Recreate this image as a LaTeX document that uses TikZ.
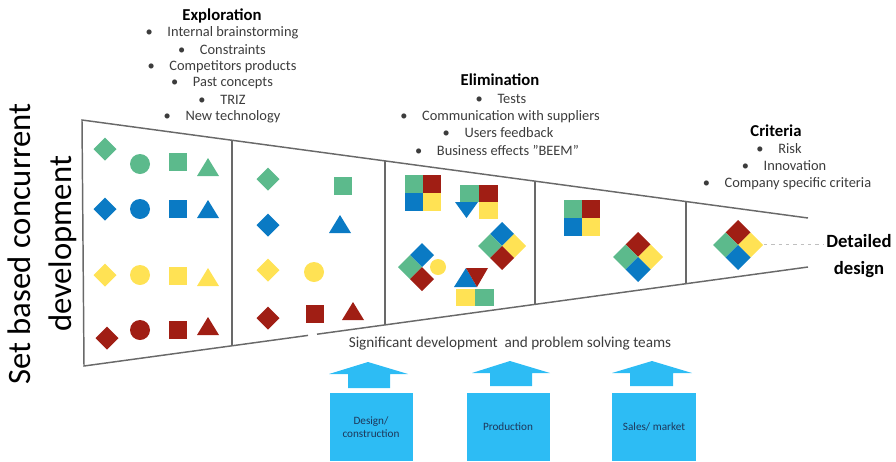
\documentclass[tikz,border=0pt]{standalone}
\usepackage{fontspec}
\setmainfont{Carlito}
\definecolor{cgreen}{RGB}{92,186,140}
\definecolor{cblue}{RGB}{10,122,196}
\definecolor{cyellow}{RGB}{255,226,84}
\definecolor{cred}{RGB}{160,30,20}
\definecolor{ccyan}{RGB}{45,188,244}
\definecolor{cline}{RGB}{105,105,105}
\definecolor{ctext}{RGB}{60,60,60}
\definecolor{cnavy}{RGB}{30,55,90}
\newcommand\mydia[4]{\fill[#1] (#2,#3) +(0,-#4) -- +(#4,0) -- +(0,#4) -- +(-#4,0) -- cycle;}
\newcommand\mysq[4]{\fill[#1] (#2,#3) +(-#4,-#4) rectangle +(#4,#4);}
\newcommand\mycirc[4]{\fill[#1] (#2,#3) circle (#4);}
\newcommand\mytri[4]{\fill[#1] (#2,#3) +(-#4,8) -- +(#4,8) -- +(0,-10) -- cycle;}
% quad square: centre x,y ; cell 18
\newcommand\quadsq[2]{%
  \fill[cgreen] (#1-18,#2-18) rectangle (#1,#2);
  \fill[cred] (#1,#2-18) rectangle (#1+18,#2);
  \fill[cblue] (#1-18,#2) rectangle (#1,#2+18);
  \fill[cyellow] (#1,#2) rectangle (#1+18,#2+18);}
% diamond quad: x, y, h, top, left, right, bottom
\newcommand\dquad[7]{%
  \mydia{#4}{#1}{#2-#3}{#3}
  \mydia{#5}{#1-#3}{#2}{#3}
  \mydia{#6}{#1+#3}{#2}{#3}
  \mydia{#7}{#1}{#2+#3}{#3}}
\begin{document}
\begin{tikzpicture}[x=0.75pt,y=-0.75pt,
  funnel/.style={draw=cline,line width=1.1pt},
  title/.style={font=\fontsize{12.5}{14}\selectfont\bfseries,text=black,inner sep=0pt},
  bul/.style={font=\fontsize{10.8}{13}\selectfont,text=ctext,inner sep=0pt},
  team/.style={fill=ccyan,draw=none},
  teamtxt/.style={font=\fontsize{8.4}{10}\selectfont,text=cnavy,align=center,inner sep=0pt}]
\useasboundingbox (0,0) rectangle (896,461);

% funnel outline
\coordinate (tl) at (82,120);
\coordinate (bl) at (84,366);
\coordinate (tr) at (808,218);
\coordinate (br) at (808,267);
\coordinate (g1) at (308,335.4);
\coordinate (g2) at (317,334.2);
\draw[funnel] (tr) -- (tl) -- (bl) -- (g1);
\draw[funnel] (g2) -- (br);
\draw[funnel] (232,140.3) -- (232,345.7);
\draw[funnel] (385,160.9) -- (385,324.9);
\draw[funnel] (535,181.1) -- (535,304.4);
\draw[funnel] (686,201.5) -- (686,283.7);

% section 1
\mydia{cgreen}{105}{149}{11.5}
\mycirc{cgreen}{140}{164}{10}
\mysq{cgreen}{178}{162}{9}
\mytri{cgreen}{208}{168}{11}
\mydia{cblue}{105}{209}{11.5}
\mycirc{cblue}{140}{209}{10}
\mysq{cblue}{178}{209}{9}
\mytri{cblue}{208}{210}{11}
\mydia{cyellow}{105}{275}{11.5}
\mycirc{cyellow}{140}{275}{10}
\mysq{cyellow}{178}{276}{9}
\mytri{cyellow}{208}{278}{11}
\mydia{cred}{107}{338}{11.5}
\mycirc{cred}{140}{330}{10}
\mysq{cred}{178}{330}{9}
\mytri{cred}{208}{327}{11}

% section 2
\mydia{cgreen}{268}{179}{11.5}
\mysq{cgreen}{343}{186}{9}
\mydia{cblue}{268}{225}{11.5}
\mytri{cblue}{340}{225}{11}
\mydia{cyellow}{268}{270}{11.5}
\mycirc{cyellow}{314}{272}{10}
\mydia{cred}{268}{318}{11.5}
\mysq{cred}{315}{314}{9}
\mytri{cred}{353}{312}{11}

% section 3
\quadsq{423}{193}
\fill[cgreen] (460,185) rectangle (479,202);
\fill[cred] (479,185) rectangle (498,202);
\fill[cblue] (455,202) -- (478,202) -- (466.5,218) -- cycle;
\fill[cyellow] (479,202) rectangle (498,219);
\dquad{502}{246}{12}{cblue}{cgreen}{cyellow}{cred}
\mycirc{cyellow}{438}{267}{8}
\mydia{cblue}{422}{255}{12}
\mydia{cgreen}{410}{267}{12}
\mydia{cred}{422}{279}{12}
\fill[cblue] (454,287) -- (477,287) -- (466,268) -- cycle;
\fill[cred] (466,268) -- (488,268) -- (477,287) -- cycle;
\fill[cyellow] (456,289) rectangle (475,306);
\fill[cgreen] (475,289) rectangle (494,306);

% section 4
\quadsq{582}{218}
\dquad{638}{257}{12.5}{cred}{cgreen}{cyellow}{cblue}

% section 5
\dquad{738}{245}{12.5}{cred}{cgreen}{cyellow}{cblue}

% detailed design
\coordinate (dd0) at (764,244);
\node[font=\fontsize{14}{20}\selectfont\bfseries,align=center,inner sep=0pt] (dd) at (859,256) {Detailed\\design};
\draw[gray!50,line width=0.6pt,dash pattern=on 2.5pt off 3pt] (dd0) -- ([xshift=-2pt]dd.west |- dd0);

% vertical label
\node[rotate=90,font=\fontsize{24.5}{31}\selectfont,align=center,inner sep=0pt] (vl) at (42,244) {Set based concurrent\\development};

% Exploration
\node[title] (t1) at (222,16) {Exploration};
\node[bul] (e1) at (222,33) {\textbullet\hspace{11pt}Internal brainstorming};
\node[bul] (e2) at (222,50) {\textbullet\hspace{11pt}Constraints};
\node[bul] (e3) at (222,67) {\textbullet\hspace{11pt}Competitors products};
\node[bul] (e4) at (222,83) {\textbullet\hspace{11pt}Past concepts};
\node[bul] (e5) at (222,100) {\textbullet\hspace{11pt}TRIZ};
\node[bul] (e6) at (222,117) {\textbullet\hspace{11pt}New technology};

% Elimination
\node[title] (t2) at (500,80) {Elimination};
\node[bul] (l1) at (501,99) {\textbullet\hspace{11pt}Tests};
\node[bul] (l2) at (500,117) {\textbullet\hspace{11pt}Communication with suppliers};
\node[bul] (l3) at (498,133) {\textbullet\hspace{11pt}Users feedback};
\node[bul] (l4) at (497,150) {\textbullet\hspace{11pt}Business effects "BEEM"};

% Criteria
\node[title] (t3) at (776,131) {Criteria};
\node[bul] (c1) at (779,149) {\textbullet\hspace{11pt}Risk};
\node[bul] (c2) at (784,166) {\textbullet\hspace{11pt}Innovation};
\node[bul] (c3) at (787,184) {\textbullet\hspace{11pt}Company specific criteria};

% teams
\node[font=\fontsize{11.4}{13}\selectfont,text=ctext,inner sep=0pt] (sig) at (510,344) {Significant development \ and problem solving teams};

\fill[team] (348,388) -- (348,374) -- (329,374) -- (368,362) -- (408,374) -- (390,374) -- (390,388) -- cycle;
\fill[team] (490,386) -- (490,373) -- (472,373) -- (510,361) -- (550,373) -- (532,373) -- (532,386) -- cycle;
\fill[team] (630,386) -- (630,373) -- (612,373) -- (652,361) -- (692,373) -- (673,373) -- (673,386) -- cycle;

\fill[team] (330,393) rectangle (413,461);
\fill[team] (467,393) rectangle (550,461);
\fill[team] (612,393) rectangle (696,461);
\node[teamtxt] (b1) at (371,427) {Design/\\construction};
\node[teamtxt] (b2) at (508,427) {Production};
\node[teamtxt] (b3) at (654,427) {Sales/ market};
\end{tikzpicture}
\end{document}
